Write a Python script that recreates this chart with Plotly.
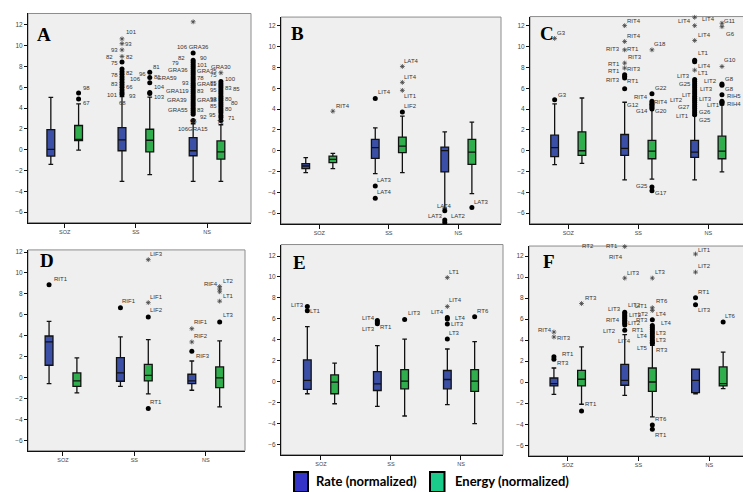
import plotly.graph_objects as go

categories = ["SOZ", "SS", "NS"]
series_names = ["Rate (normalized)", "Energy (normalized)"]
panel_letters = ["A", "B", "C", "D", "E", "F"]
y_ticks = [-6, -4, -2, 0, 2, 4, 6, 8, 10, 12]

# Box statistics per category (SOZ, SS, NS): [lower whisker, Q1, median, Q3, upper whisker]
A_rate   = [[-1.41, -0.61, 0.03, 1.94, 5.04], [-3.04, -0.10, 0.95, 2.13, 5.10], [-3.04, -0.58, -0.10, 1.17, 2.50]]
A_energy = [[-0.04, 0.89, 0.99, 2.33, 4.40], [-2.40, -0.20, 0.91, 1.97, 5.05], [-3.04, -0.90, -0.20, 0.85, 2.40]]
B_rate   = [[-2.10, -1.72, -1.47, -1.24, -0.67], [-2.20, -0.73, 0.29, 1.09, 2.20], [-5.52, -2.04, 0.00, 0.35, 1.82]]
B_energy = [[-1.72, -1.15, -0.83, -0.51, -0.26], [-2.10, -0.19, 0.45, 1.31, 3.32], [-4.12, -1.31, -0.13, 1.09, 2.74]]
C_rate   = [[-1.34, -0.57, 0.29, 1.50, 4.50], [-2.81, -0.45, 0.22, 1.56, 4.66], [-2.81, -0.64, -0.13, 0.99, 3.40]]
C_energy = [[-1.21, -0.45, 0.00, 1.82, 5.07], [-2.74, -0.77, -0.03, 0.99, 4.44], [-2.04, -0.77, -0.03, 1.40, 4.40]]
D_rate   = [[-0.58, 1.17, 3.40, 3.97, 5.37], [-0.84, -0.36, 0.44, 1.90, 3.88], [-1.22, -0.58, -0.33, 0.31, 1.58]]
D_energy = [[-1.47, -0.84, -0.33, 0.44, 1.87], [-1.57, -0.33, 0.21, 1.26, 3.62], [-2.80, -0.96, -0.04, 1.01, 3.50]]
E_rate   = [[-1.17, -0.76, 0.10, 2.06, 5.24], [-2.38, -0.86, -0.22, 0.95, 3.43], [-2.22, -0.70, 0.19, 1.05, 3.11]]
E_energy = [[-2.13, -1.17, -0.06, 0.63, 1.75], [-3.30, -0.70, 0.03, 1.14, 4.06], [-4.03, -0.95, 0.03, 1.14, 3.81]]
F_rate   = [[-1.15, -0.36, -0.14, 0.40, 1.35], [-1.25, -0.29, 0.18, 1.70, 4.52], [-1.12, -1.00, 0.18, 1.23, 1.23]]
F_energy = [[-2.10, -0.36, 0.28, 1.13, 3.35], [-3.30, -0.87, 0.02, 1.35, 3.50], [-0.62, -0.36, -0.14, 1.45, 2.86]]

# Outliers: (series 0=rate 1=energy, category index, kind "o"=outlier "*"=extreme, values)
A_outliers = [
    (1, 0, "o", [5.46, 4.88]),
    (0, 1, "*", [10.66, 10.2, 9.6, 8.97]),
    (0, 1, "o", [8.43, 7.76, 7.5, 7.25, 7.0, 6.75, 6.5, 6.25, 6.0, 5.75, 5.5, 5.3]),
    (1, 1, "o", [7.45, 6.95, 6.45, 5.5, 5.4]),
    (0, 2, "*", [12.3]),
    (0, 2, "o", [9.29, 8.6, 8.4, 8.2, 8.0, 7.8, 7.6, 7.4, 7.2, 7.0, 6.8, 6.6, 6.4, 6.2, 6.0, 5.8, 5.6, 5.4,
                 5.2, 5.0, 4.8, 4.6, 4.4, 4.2, 4.0, 3.8, 3.6, 3.4, 2.8]),
    (1, 2, "*", [7.4]),
    (1, 2, "o", [6.55, 6.35, 6.15, 5.95, 5.75, 5.55, 5.35, 5.15, 4.95, 4.75, 4.55, 4.35, 4.15, 3.95, 3.75,
                 3.55, 3.3, 3.1, 2.8]),
]
B_outliers = [
    (1, 0, "*", [3.8]),
    (0, 1, "o", [5.01, -3.38, -4.56]),
    (1, 1, "*", [8.1, 6.57, 5.8]),
    (1, 1, "o", [3.73]),
    (0, 2, "o", [-5.78, -6.67, -6.9]),
    (1, 2, "o", [-5.46]),
]
C_outliers = [
    (0, 0, "o", [4.9]),
    (0, 0, "*", [10.8]),
    (0, 1, "*", [12.03, 10.5, 9.7, 8.43, 7.95]),
    (0, 1, "o", [7.3, 7.15, 7.0, 5.97]),
    (1, 1, "*", [9.7]),
    (1, 1, "o", [5.49, 4.76, 4.6, 4.45, 4.3, 4.15, 4.02, -3.48, -3.86]),
    (0, 2, "*", [12.83, 12.03, 10.6, 7.75]),
    (0, 2, "o", [8.7, 8.55, 6.85, 6.65, 6.45, 6.25, 6.05, 5.85, 5.65, 5.45, 5.25, 5.05, 4.85, 4.65, 4.45,
                 4.25, 4.05, 3.85, 3.65, 3.45]),
    (1, 2, "*", [12.26, 11.93, 8.1]),
    (1, 2, "o", [6.41, 6.3, 5.39, 4.75, 4.65, 4.55]),
]
D_outliers = [
    (0, 0, "o", [8.88]),
    (0, 1, "o", [6.68]),
    (1, 1, "*", [11.27, 7.16]),
    (1, 1, "o", [5.79, -2.97]),
    (0, 2, "*", [4.67, 3.4]),
    (0, 2, "o", [2.5]),
    (1, 2, "*", [8.7, 8.45, 8.2, 7.3]),
    (1, 2, "o", [5.3]),
]
E_outliers = [
    (0, 0, "o", [7.17, 6.76]),
    (0, 1, "o", [5.84, 5.68, 5.52]),
    (1, 1, "o", [5.94]),
    (0, 2, "*", [9.94, 7.17]),
    (0, 2, "o", [6.13, 5.97, 5.49, 4.06]),
    (1, 2, "o", [6.19]),
]
F_outliers = [
    (0, 0, "*", [4.77, 4.3]),
    (0, 0, "o", [2.41, 2.18]),
    (1, 0, "*", [7.48]),
    (1, 0, "o", [-2.75]),
    (0, 1, "*", [12.9, 9.9]),
    (0, 1, "o", [6.65, 6.5, 6.35, 6.2, 6.05, 5.9, 5.75, 5.6, 5.45, 4.93]),
    (1, 1, "*", [9.9, 7.08, 6.82]),
    (1, 1, "o", [5.94, 5.4, 5.2, 5.0, 4.8, 4.6, 4.4, 4.2, 4.0, 3.8, 3.67, -4.07, -4.48]),
    (0, 2, "*", [12.19, 10.47]),
    (0, 2, "o", [8.04, 7.37]),
    (1, 2, "o", [5.72]),
]

# Case labels: (series, category, value, text)
A_labels = [
    (1, 0, 5.95, "98"), (1, 0, 4.45, "67"),
    (0, 1, 11.3, "101"), (0, 1, 10.15, "93"), (0, 1, 9.6, "93"), (0, 1, 8.95, "82"), (0, 1, 8.95, "82"),
    (0, 1, 8.33, "75"), (0, 1, 7.4, "82"), (0, 1, 7.2, "78"), (0, 1, 6.83, "106"), (0, 1, 6.35, "83"),
    (0, 1, 6.0, "66"), (0, 1, 5.3, "101"), (0, 1, 5.13, "93"), (0, 1, 4.5, "68"),
    (1, 1, 8.0, "81"), (1, 1, 7.3, "96"), (1, 1, 6.96, "81"), (1, 1, 6.03, "104"), (1, 1, 5.04, "103"),
    (0, 2, 9.9, "106 GRA36"), (0, 2, 8.81, "82"), (0, 2, 8.81, "90"), (0, 2, 8.33, "79"), (0, 2, 8.17, "101"),
    (0, 2, 7.63, "GRA36"), (0, 2, 7.55, "GRA35"), (0, 2, 6.9, "78"), (0, 2, 6.9, "GRA59"), (0, 2, 6.42, "93"),
    (0, 2, 6.35, "GRA11"), (0, 2, 5.6, "GRA119"), (0, 2, 5.6, "83"), (0, 2, 4.82, "GRA39"), (0, 2, 4.82, "GRA38"),
    (0, 2, 3.86, "GRA55"), (0, 2, 3.86, "83"), (0, 2, 3.16, "92"), (0, 2, 2.74, "66"), (0, 2, 2.04, "106GRA15"),
    (1, 2, 7.95, "GRA30"), (1, 2, 7.21, "75"), (1, 2, 6.83, "100"), (1, 2, 6.42, "85"), (1, 2, 5.94, "83"),
    (1, 2, 5.85, "85"), (1, 2, 5.71, "95"), (1, 2, 4.91, "93"), (1, 2, 4.91, "80"), (1, 2, 4.5, "80"),
    (1, 2, 4.18, "85"), (1, 2, 3.9, "80"), (1, 2, 3.31, "95"), (1, 2, 3.06, "71"), (1, 2, 2.64, "72"),
]
B_labels = [
    (1, 0, 4.3, "RIT4"),
    (0, 1, 5.6, "LIT4"), (0, 1, -2.81, "LAT3"), (0, 1, -3.96, "LAT4"),
    (1, 1, 8.65, "LAT4"), (1, 1, 7.09, "LIT4"), (1, 1, 5.3, "LIT1"), (1, 1, 4.27, "LIF2"),
    (0, 2, -5.3, "LAT4"), (0, 2, -6.32, "LAT3"), (0, 2, -6.32, "LAT2"),
    (1, 2, -4.92, "LAT3"),
]
C_labels = [
    (0, 0, 5.39, "G3"), (0, 0, 11.3, "G3"),
    (0, 1, 12.5, "RIT4"), (0, 1, 11.07, "RIT4"), (0, 1, 9.8, "RIT3"), (0, 1, 9.8, "RT1"), (0, 1, 8.97, "RIT3"),
    (0, 1, 8.36, "RT1"), (0, 1, 7.63, "RT1"), (0, 1, 7.85, "RIT3"), (0, 1, 6.83, "RIT3"), (0, 1, 6.67, "RT1"),
    (1, 1, 10.25, "G18"), (1, 1, 6.03, "G22"), (1, 1, 5.17, "RIT4"), (1, 1, 4.66, "RIT4"), (1, 1, 4.37, "G12"),
    (1, 1, 3.86, "G14"), (1, 1, 3.86, "G20"), (1, 1, -3.39, "G25"), (1, 1, -4.02, "G17"),
    (0, 2, 12.5, "LIT4"), (0, 2, 12.64, "LIT4"), (0, 2, 11.14, "LIT4"), (0, 2, 9.39, "LT1"), (0, 2, 8.17, "LIT4"),
    (0, 2, 7.47, "LT1"), (0, 2, 7.15, "LIT3"), (0, 2, 6.45, "G25"), (0, 2, 6.73, "LIT2"), (0, 2, 5.97, "LIT3"),
    (0, 2, 5.39, "LIT"), (0, 2, 4.98, "LIT3"), (0, 2, 4.85, "LIT2"), (0, 2, 4.37, "LIT1"), (0, 2, 4.21, "G27"),
    (0, 2, 3.7, "G26"), (0, 2, 3.38, "LIT1"), (0, 2, 3.0, "G25"),
    (1, 2, 12.48, "G11"), (1, 2, 11.24, "G6"), (1, 2, 8.68, "G10"), (1, 2, 6.93, "G8"), (1, 2, 5.97, "G8"),
    (1, 2, 5.3, "RIH5"), (1, 2, 4.53, "RIH4"),
]
D_labels = [
    (0, 0, 9.43, "RIT1"),
    (0, 1, 7.3, "RIF1"),
    (1, 1, 11.81, "LIF3"), (1, 1, 7.68, "LIF1"), (1, 1, 6.41, "LIF2"), (1, 1, -2.31, "RT1"),
    (0, 2, 5.3, "RIF1"), (0, 2, 3.97, "RIF2"), (0, 2, 2.03, "RIF3"),
    (1, 2, 9.21, "LT2"), (1, 2, 8.95, "RIF4"), (1, 2, 7.84, "LT1"), (1, 2, 5.93, "LT3"),
]
E_labels = [
    (0, 0, 7.27, "LIT3"), (0, 0, 6.7, "LT1"),
    (0, 1, 6.1, "LIT4"), (0, 1, 4.98, "LIT3"), (0, 1, 5.21, "RT1"),
    (1, 1, 6.57, "LIT3"),
    (0, 2, 10.5, "LT1"), (0, 2, 7.84, "LIT4"), (0, 2, 6.63, "LIT4"), (0, 2, 6.1, "LT4"), (0, 2, 5.46, "LIT3"),
    (0, 2, 4.63, "LT3"),
    (1, 2, 6.79, "RT6"),
]
F_labels = [
    (0, 0, 4.93, "RIT4"), (0, 0, 4.23, "RIT3"), (0, 0, 2.72, "RT1"), (0, 0, 1.84, "RT3"),
    (1, 0, 8.0, "RT3"), (1, 0, -2.11, "RT1"),
    (0, 1, 12.95, "RT2"), (0, 1, 12.95, "RT1"), (0, 1, 11.9, "RIT4"), (0, 1, 10.39, "LIT3"), (0, 1, 6.98, "LIT3"),
    (0, 1, 7.3, "LIT2"), (0, 1, 6.35, "LIT2"), (0, 1, 5.94, "RIT4"), (0, 1, 5.63, "LIT2"), (0, 1, 4.87, "LIT2"),
    (0, 1, 4.93, "RT1"), (0, 1, 3.92, "LIT4"),
    (1, 1, 10.52, "LT3"), (1, 1, 7.2, "LIT1"), (1, 1, 7.71, "RT6"), (1, 1, 6.51, "LT2"), (1, 1, 6.44, "LT4"),
    (1, 1, 5.94, "RT3"), (1, 1, 5.66, "LT4"), (1, 1, 4.71, "LT3"), (1, 1, 4.39, "LT4"), (1, 1, 3.98, "LT3"),
    (1, 1, 3.29, "LT5"), (1, 1, 3.1, "RT3"), (1, 1, -3.5, "RT6"), (1, 1, -5.02, "RT1"),
    (0, 2, 12.57, "LIT1"), (0, 2, 11.09, "LIT2"), (0, 2, 8.56, "RT1"), (0, 2, 6.82, "LIT3"),
    (1, 2, 6.25, "LT6"),
]

# ---- styling / placement (pixels) ----
# horizontal gap of each label from its box column: >0 label starts right, <0 ends left, 0 centred
A_label_dx = [3, 3,
              3, 2, -3, -8, 3, -3, 3, -3, 7, -3, 3, -3, 6, 0,
              2, -3, 3, 3, 3,
              0, -7, 6, -13, 3, -4, 3, 3, -15, -3, 3, -3, 3, -5, 3, -4, 3, 6, 0, 0,
              0, -3, 3, -3, 3, 11, -3, -3, 3, 9, -3, 3, -4, 6, 0]
B_label_dx = [2, 2, 1, 1, 1, 1, 1, 1, 0, -1, 5, 1]
C_label_dx = [2, 1,
              1, 1, -4, 1, 2, -4, -4, 1, -4, 1,
              1, 2, -3, 1, -12, -3, 2, -3, 2,
              -3, 6, 2, 2, 2, 2, -4, -3, 8, 4, -3, 3, -11, 11, -4, 3, -5, 3,
              1, 3, 1, 2, 2, 4, 4]
D_label_dx = [4, 1, 1, 1, 1, 1, 1, 1, 3, 2, -1, 2, 2]
E_label_dx = [-2, 2, -1, -1, 2, 2, 1, 1, -2, 7, 3, 1, 1]
F_label_dx = [-1, 2, 7, 2,
              2, 2,
              -30, -6, -1, 1, -3, 2, 3.5, -4, 2.5, -7.5, 6, 0,
              1.5, -3, 2.5, -2.5, 2.5, -3, 8, 2.5, -3, 2.5, -3, 2.5, 1.5, 1.5,
              1, 1, 1, 1,
              1]

W, H = 751, 492
# plot-area pixel boxes: x_left, x_right, y_top, y_bottom
panel_px = [(20, 243, 3.5, 213.4), (273, 493, 7.1, 214.4), (522, 740, 6.6, 214.4),
            (20, 237, 240.9, 442.5), (273, 495, 235.5, 446.5), (521, 740, 237.0, 447.6)]
y_top = [13.1, 12.85, 12.9, 12.2, 13.1, 12.95]
x_ranges = [(-0.516, 2.618), (-0.551, 2.614), (-0.547, 2.567), (-0.49, 2.55), (-0.571, 2.6), (-0.547, 2.546)]
letter_px = [(27, 24.5), (281, 24), (530, 24), (30, 252), (283, 253.5), (533, 253)]
offsets = [-0.195, 0.195]
box_colors = ["#3b4fa6", "#30ad4c"]
legend_colors = ["#3434c8", "#1bcb8c"]

panels = [
    (A_rate, A_energy, A_outliers, A_labels, A_label_dx),
    (B_rate, B_energy, B_outliers, B_labels, B_label_dx),
    (C_rate, C_energy, C_outliers, C_labels, C_label_dx),
    (D_rate, D_energy, D_outliers, D_labels, D_label_dx),
    (E_rate, E_energy, E_outliers, E_labels, E_label_dx),
    (F_rate, F_energy, F_outliers, F_labels, F_label_dx),
]

fig = go.Figure()
annotations = []
shapes = []
layout_axes = {}

for i, (rate, energy, outs, labs, dxs) in enumerate(panels):
    n = i + 1
    sfx = "" if n == 1 else str(n)
    xa, ya = "x" + sfx, "y" + sfx
    x0, x1, yt, yb = panel_px[i]

    for s, stats in enumerate([rate, energy]):
        fig.add_trace(go.Box(
            x=[c + offsets[s] for c in range(len(categories))],
            lowerfence=[b[0] for b in stats], q1=[b[1] for b in stats], median=[b[2] for b in stats],
            q3=[b[3] for b in stats], upperfence=[b[4] for b in stats],
            width=0.11, whiskerwidth=0.6, fillcolor=box_colors[s],
            line=dict(color="#111111", width=1.3), boxpoints=False,
            name=series_names[s], showlegend=False, hoverinfo="skip", xaxis=xa, yaxis=ya))

    for kind in ["o", "*"]:
        xs, ys = [], []
        for s, c, k, vals in outs:
            if k == kind:
                xs += [c + offsets[s]] * len(vals)
                ys += vals
        if not xs:
            continue
        if kind == "o":
            mk = dict(symbol="circle", size=5, color="black")
        else:
            mk = dict(symbol="asterisk-open", size=4, color="#444", line=dict(color="#444", width=0.8))
        fig.add_trace(go.Scatter(x=xs, y=ys, mode="markers", marker=mk, showlegend=False,
                                 hoverinfo="skip", cliponaxis=False, xaxis=xa, yaxis=ya))

    for (s, c, v, txt), dx in zip(labs, dxs):
        anchor = "left" if dx > 0 else ("right" if dx < 0 else "center")
        annotations.append(dict(x=c + offsets[s], y=v, xref=xa, yref=ya, text=txt, showarrow=False,
                                xanchor=anchor, yanchor="middle", xshift=dx, borderpad=0,
                                font=dict(family="Liberation Sans", size=6, color="#333")))

    lx, ly = letter_px[i]
    annotations.append(dict(x=lx / W, y=1 - ly / H, xref="paper", yref="paper", text="<b>%s</b>" % panel_letters[i],
                            showarrow=False, xanchor="left", yanchor="middle",
                            font=dict(family="Liberation Serif", size=19, color="black")))

    shapes.append(dict(type="rect", xref=xa + " domain", yref=ya + " domain", x0=0, x1=1, y0=0, y1=1,
                       line=dict(color="#8c8c8c", width=1), layer="below"))

    layout_axes["xaxis" + sfx] = dict(
        domain=[x0 / W, x1 / W], range=list(x_ranges[i]), anchor=ya,
        tickvals=list(range(len(categories))), ticktext=categories,
        showline=True, linecolor="#111", linewidth=1, ticks="outside", ticklen=4, tickcolor="#111",
        showgrid=False, zeroline=False, fixedrange=True,
        tickfont=dict(family="Liberation Sans", size=5.5, color="#444"))
    layout_axes["yaxis" + sfx] = dict(
        domain=[1 - yb / H, 1 - yt / H], range=[-7, y_top[i]], anchor=xa,
        tickvals=y_ticks, showline=True, linecolor="#111", linewidth=1, ticks="outside", ticklen=3,
        tickcolor="#111", showgrid=False, zeroline=False, fixedrange=True,
        tickfont=dict(family="Liberation Sans", size=6.5, color="#444"))

# legend (manual, bottom centre)
legend_px = [(286, 300, 464, 484, 307), (422, 436.5, 464, 484, 446)]
for s in range(2):
    lx0, lx1, ly0, ly1, tx = legend_px[s]
    shapes.append(dict(type="rect", xref="paper", yref="paper", x0=lx0 / W, x1=lx1 / W,
                       y0=1 - ly1 / H, y1=1 - ly0 / H, fillcolor=legend_colors[s],
                       line=dict(color="black", width=2)))
    annotations.append(dict(x=tx / W, y=1 - 473 / H, xref="paper", yref="paper", text="<b>%s</b>" % series_names[s],
                            showarrow=False, xanchor="left", yanchor="middle", borderpad=0,
                            font=dict(family="Lato", size=13, color="black")))

fig.update_layout(
    width=W, height=H, margin=dict(l=0, r=0, t=0, b=0),
    paper_bgcolor="white", plot_bgcolor="#efefef",
    boxmode="overlay", showlegend=False,
    annotations=annotations, shapes=shapes, **layout_axes)

fig.write_html("out.html")
